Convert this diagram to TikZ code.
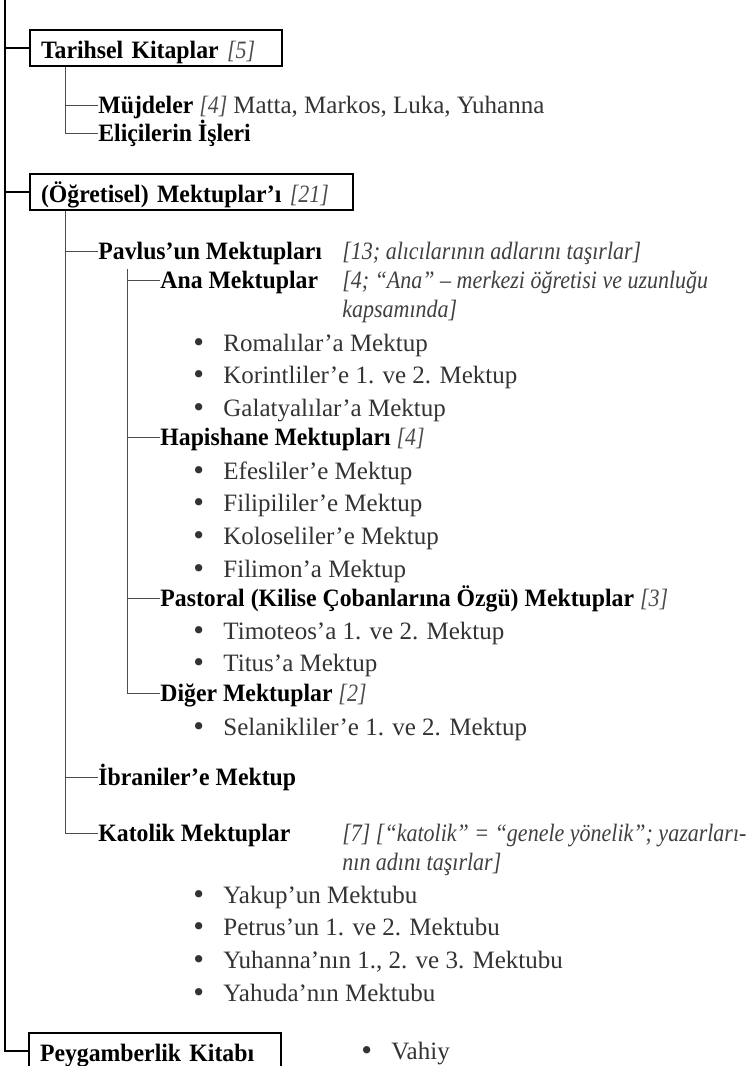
\documentclass[tikz,border=0pt]{standalone}
\usepackage{fontspec}
\setmainfont{Liberation Serif}[ItalicFeatures={FakeStretch=0.88}, BoldFeatures={FakeStretch=0.95}]
\newfontfamily\imfont{DejaVu Sans}
\usetikzlibrary{positioning}

\newcommand{\adet}[1]{{\mdseries\itshape\color{black!70}#1}}
\newcommand{\madde}{\makebox[16pt][l]{\imfont •}}

\begin{document}
\begin{tikzpicture}[
    x=0.5pt, y=-0.5pt,
    node distance=4pt,
    txt/.style={
      anchor=west, inner sep=0pt, text height=10pt, text depth=2pt,
      font=\fontsize{12.5pt}{16pt}\selectfont
    },
    kitap/.style={
      txt, draw, line width=1pt, inner xsep=5.5pt, minimum height=18pt,
      text height=11pt, text depth=1pt, text width=115pt, align=left,
      font=\fontsize{12.5pt}{16pt}\selectfont\bfseries
    },
    baslik/.style={txt, font=\fontsize{12.5pt}{16pt}\selectfont\bfseries},
    item/.style={txt, text=black!80},
    note/.style={
      anchor=base west, inner sep=0pt, align=left, text=black!75,
      font=\fontsize{12.5pt}{14.5pt}\selectfont\itshape
    },
    trunk/.style={line width=1pt},
    branch/.style={line width=0.5pt, draw=black!70}
]
\useasboundingbox (0,0) rectangle (749,1066);

% Columns
\coordinate (gövde) at (5,0);
\coordinate (v1) at (65,0);
\coordinate (v2) at (127,0);
\coordinate (nx) at (342,0);

% Tarihsel Kitaplar
\node[kitap] (tk) at (29,48) {Tarihsel Kitaplar \adet{[5]}};
\node[baslik] (mj) at (98,105) {Müjdeler \adet{[4]} {\mdseries\color{black!80}Matta, Markos, Luka, Yuhanna}};
\node[baslik] (el) at (98,133) {Eliçilerin İşleri};

% Mektuplar
\node[kitap, text width=150.5pt] (mk) at (29,192) {(Öğretisel) Mektuplar’ı \adet{[21]}};
\node[baslik] (pv) at (98,251) {Pavlus’un Mektupları};
\node[note] (pvn) at (pv.base -| nx) {[13; alıcılarının adlarını taşırlar]};

\node[baslik] (an) at (160,280) {Ana Mektuplar};
\coordinate (ann0) at (an.base -| nx);
\node[note, below=14.5pt of ann0, anchor=base west] (ann) {[4; “Ana” – merkezi öğretisi ve uzunluğu\\kapsamında]};
\node[item] (ro) at (191,343) {\madde Romalılar’a Mektup};
\node[item, below=of ro.south west, anchor=north west] (ko) {\madde Korintliler’e 1. ve 2. Mektup};
\node[item, below=of ko.south west, anchor=north west] (ga) {\madde Galatyalılar’a Mektup};

\node[baslik] (hp) at (160,437) {Hapishane Mektupları \adet{[4]}};
\node[item] (ef) at (191,471) {\madde Efesliler’e Mektup};
\node[item, below=of ef.south west, anchor=north west] (fi) {\madde Filipililer’e Mektup};
\node[item, below=of fi.south west, anchor=north west] (kl) {\madde Koloseliler’e Mektup};
\node[item, below=of kl.south west, anchor=north west] (fm) {\madde Filimon’a Mektup};

\node[baslik] (ps) at (160,598) {Pastoral (Kilise Çobanlarına Özgü) Mektuplar \adet{[3]}};
\node[item] (ti) at (191,631) {\madde Timoteos’a 1. ve 2. Mektup};
\node[item, below=of ti.south west, anchor=north west] (tt) {\madde Titus’a Mektup};

\node[baslik] (dg) at (160,693) {Diğer Mektuplar \adet{[2]}};
\node[item] (se) at (191,727) {\madde Selanikliler’e 1. ve 2. Mektup};

\node[baslik] (ib) at (98,777) {İbraniler’e Mektup};

\node[baslik] (kt) at (98,833) {Katolik Mektuplar};
\coordinate (ktn0) at (kt.base -| nx);
\node[note, below=14.5pt of ktn0, anchor=base west] (ktn) {[7] [“katolik” = “genele yönelik”; yazarları-\\nın adını taşırlar]};
\node[item] (ya) at (191,895) {\madde Yakup’un Mektubu};
\node[item, below=of ya.south west, anchor=north west] (pe) {\madde Petrus’un 1. ve 2. Mektubu};
\node[item, below=of pe.south west, anchor=north west] (yu) {\madde Yuhanna’nın 1., 2. ve 3. Mektubu};
\node[item, below=of yu.south west, anchor=north west] (yh) {\madde Yahuda’nın Mektubu};

% Peygamberlik Kitabı
\node[kitap] (pk) at (28,1051) {Peygamberlik Kitabı};
\node[item] (va) at (359,1051) {\madde Vahiy};

% Trunk
\draw[trunk] (gövde) |- (pk.west);
\draw[trunk] (tk.west -| gövde) -- (tk.west);
\draw[trunk] (mk.west -| gövde) -- (mk.west);

% Branches
\draw[branch] (tk.south -| v1) |- (mj.west);
\draw[branch] (tk.south -| v1) |- (el.west);
\draw[branch] (mk.south -| v1) |- (pv.west);
\draw[branch] (mk.south -| v1) |- (ib.west);
\draw[branch] (mk.south -| v1) |- (kt.west);
\draw[branch] (pv.south -| v2) ++(0,6) |- (an.west);
\draw[branch] (pv.south -| v2) ++(0,6) |- (hp.west);
\draw[branch] (pv.south -| v2) ++(0,6) |- (ps.west);
\draw[branch] (pv.south -| v2) ++(0,6) |- (dg.west);

\end{tikzpicture}
\end{document}
